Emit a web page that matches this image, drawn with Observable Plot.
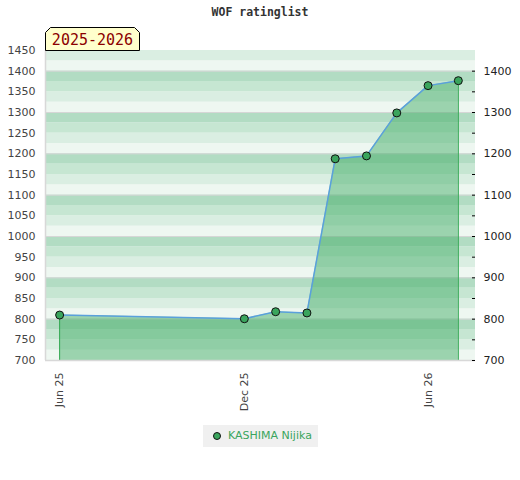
<!DOCTYPE html>
<html>
<head>
<meta charset="utf-8">
<script src="https://cdn.jsdelivr.net/npm/d3@7"></script>
<script src="https://cdn.jsdelivr.net/npm/@observablehq/plot@0.6"></script>
<style>
  body { margin: 0; background: #fff; }
  #wrap { position: relative; width: 520px; height: 480px; font-family: "DejaVu Sans", sans-serif; }
  #title { position: absolute; left: 0; top: 5px; width: 520px; text-align: center;
           font-family: "DejaVu Sans Mono", monospace; font-weight: bold; font-size: 11.5px; color: #333; }
  #badge { position: absolute; left: 45px; top: 27px; }
  #legend { position: absolute; left: 203px; top: 425px; width: 115px; height: 22px; background: #f0f0f0;
            font-size: 11px; color: #3aa55d; }
  #legend .dot { position: absolute; left: 10px; top: 7px; width: 6px; height: 6px; border-radius: 50%;
                 background: #3aa55d; border: 1px solid #111; }
  #legend .lab { position: absolute; left: 25px; top: 4px; white-space: nowrap; }
</style>
</head>
<body>
<div id="wrap">
  <div id="title"></div>
  <svg id="badge" width="96" height="24">
    <polygon points="0.5,23.5 0.5,5.5 5.5,0.5 89.5,0.5 94.5,5.5 94.5,23.5" fill="#ffffcc" stroke="#000" stroke-width="1"></polygon>
    <text x="47.5" y="18" text-anchor="middle" font-family="DejaVu Sans Mono, monospace" font-size="15" fill="#8b0000"></text>
  </svg>
  <div id="legend"><span class="dot"></span><span class="lab"></span></div>
</div>
<script>
const titleText = "WOF ratinglist";
const seasonText = "2025-2026";
const playerName = "KASHIMA Nijika";

const dates = ["2025-06-01","2025-12-01","2026-01-01","2026-02-01","2026-03-01","2026-04-01","2026-05-01","2026-06-01","2026-07-01"];
const ratings = [810, 801, 818, 815, 1188, 1195, 1299, 1365, 1377];

const xTicks = ["2025-06-01","2025-12-01","2026-06-01"];
const xDomain = ["2025-05-18","2026-07-18"];
const yMin = 700, yMax = 1450;
const leftTicks = d3.range(700, 1451, 50);
const rightTicks = d3.range(700, 1401, 100);
const bandEdges = d3.range(700, 1450, 25);

const parse = d3.utcParse("%Y-%m-%d");
const data = dates.map((d, i) => ({date: parse(d), rating: ratings[i]}));

document.getElementById("title").textContent = titleText;
document.querySelector("#badge text").textContent = seasonText;
document.querySelector("#legend .lab").textContent = playerName;

const bandColors = ["#eef7f1", "#daeee2", "#c6e6d2", "#b2dcc3"];
const bandMarks = bandColors.map((c, k) =>
  Plot.rect(bandEdges.filter((v, i) => i % 4 === k), {y1: d => d, y2: d => d + 25, fill: c})
);
const fmt = d3.format("d");

const chart = Plot.plot({
  width: 520,
  height: 480,
  marginTop: 50,
  marginLeft: 45,
  marginRight: 45,
  marginBottom: 120,
  style: {fontFamily: "DejaVu Sans, sans-serif", fontSize: "11px", background: "transparent", overflow: "visible"},
  x: {type: "utc", domain: xDomain.map(parse)},
  y: {domain: [yMin, yMax]},
  marks: [
    ...bandMarks,
    Plot.ruleY(rightTicks, {stroke: "#d6d6d6", strokeWidth: 1}),
    Plot.areaY(data, {x: "date", y1: yMin, y2: "rating", fill: "rgb(51,166,88)", fillOpacity: 0.44}),
    Plot.ruleX([data[0], data[data.length - 1]], {x: "date", y1: yMin, y2: "rating", stroke: "#33a852", strokeWidth: 1}),
    Plot.ruleY([yMin], {stroke: "#d8d8d8", strokeWidth: 1.5}),
    Plot.ruleX([parse(xDomain[0])], {stroke: "#d8d8d8", strokeWidth: 1.5}),
    Plot.lineY(data, {x: "date", y: "rating", stroke: "#5aa0dc", strokeWidth: 1.5}),
    Plot.dot(data, {x: "date", y: "rating", r: 4, fill: "#3aa55d", stroke: "#111", strokeWidth: 1}),
    Plot.axisY({anchor: "left", ticks: leftTicks, tickFormat: fmt, tickSize: 0, tickPadding: 10, fill: "#444", label: null}),
    Plot.axisY({anchor: "right", ticks: rightTicks, tickFormat: fmt, tickSize: 0, tickPadding: 8, fill: "#222", label: null}),
    Plot.axisY({anchor: "right", ticks: leftTicks.slice(0, -1), tickSize: 3, dx: -4, tickFormat: () => "", label: null}),
    Plot.axisX({ticks: xTicks.map(parse), tickFormat: d3.utcFormat("%b %y"), tickRotate: -90, tickSize: 0, tickPadding: 12, fill: "#444", label: null})
  ]
});
chart.style.position = "absolute";
chart.style.left = "0px";
chart.style.top = "0px";
document.getElementById("wrap").insertBefore(chart, document.getElementById("title"));
</script>
</body>
</html>
